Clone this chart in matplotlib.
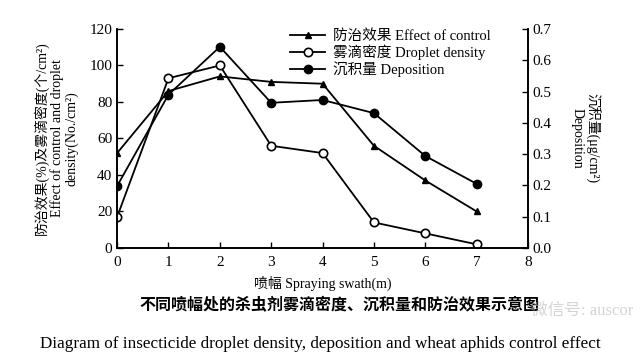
import numpy as np
import matplotlib.pyplot as plt

plt.rcParams['font.family'] = ['Liberation Serif', 'Noto Sans CJK SC']

swath = [0, 1, 2, 3, 4, 5, 6, 7]
control = [52, 86, 94, 91, 90, 56, 37, 20]
density = [17, 93, 100, 56, 52, 14, 8, 2]
deposition = [0.198, 0.49, 0.643, 0.464, 0.473, 0.431, 0.294, 0.205]

fig = plt.figure(figsize=(6.4, 3.62), dpi=100)
ax = fig.add_axes([0.183, 0.315, 0.642, 0.605])
ax2 = ax.twinx()

l1, = ax.plot(swath, control, color='black', lw=1.3, marker='^', ms=5,
              label='防治效果 Effect of control')
l2, = ax.plot(swath, density, color='black', lw=1.3, marker='o', ms=6,
              mfc='white', mew=1.2, label='雾滴密度 Droplet density')
l3, = ax2.plot(swath, deposition, color='black', lw=1.3, marker='o', ms=6,
               label='沉积量 Deposition')

ax.set_xlim(0, 8)
ax.set_ylim(0, 120)
ax2.set_ylim(0, 0.7)
ax.set_xticks(range(9))
ax.set_yticks(range(0, 121, 20))
ax2.set_yticks(np.arange(0, 0.71, 0.1))
ax2.set_yticklabels([f'{v:.1f}' for v in np.arange(0, 0.71, 0.1)])

for a in (ax, ax2):
    a.spines['top'].set_visible(False)
    for s in a.spines.values():
        s.set_linewidth(1.2)
    a.tick_params(direction='in', length=4, width=1, labelsize=11)
ax.tick_params(axis='x', pad=6)

ax.set_xlabel('喷幅 Spraying swath(m)', fontsize=10, labelpad=5)
ax.set_ylabel('防治效果(%)及雾滴密度(个/cm²)\nEffect of control and droplet\ndensity(No./cm²)',
              fontsize=10, linespacing=1.1, labelpad=8)
ax2.set_ylabel('沉积量(μg/cm²)\nDeposition', fontsize=10, rotation=-90,
               linespacing=1.1, labelpad=34)

ax.legend(handles=[l1, l2, l3], loc='upper left', bbox_to_anchor=(0.4, 1.04),
          frameon=False, fontsize=10.5, handlelength=2.4, borderaxespad=0.2,
          labelspacing=0.1, handletextpad=0.5)

fig.text(0.53, 0.142, '不同喷幅处的杀虫剂雾滴密度、沉积量和防治效果示意图',
         ha='center', fontsize=11.5, fontweight='bold')
fig.text(0.5, 0.04, 'Diagram of insecticide droplet density, deposition and wheat aphids control effect',
         ha='center', fontsize=12.3)
fig.text(0.99, 0.13, '微信号: auscor', ha='right', fontsize=12, color='#b8b8b8', alpha=0.6)

fig.savefig('out.png', dpi=100)
